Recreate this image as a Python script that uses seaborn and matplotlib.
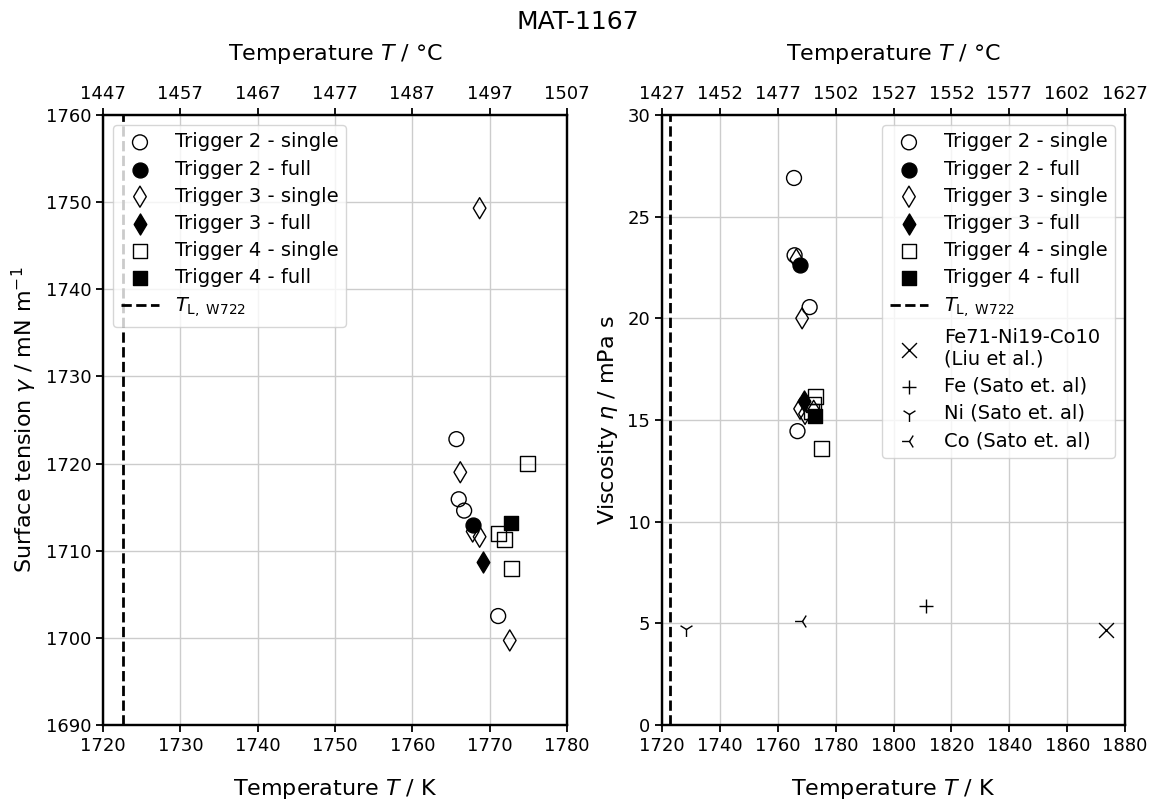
import matplotlib
matplotlib.use("Agg")
import matplotlib.pyplot as plt
import seaborn as sns

# ---- Surface tension (K, mN/m) ----
st_t2_single_T = [1765.7, 1766.0, 1766.7, 1771.1]
st_t2_single_v = [1722.8, 1715.9, 1714.6, 1702.5]
st_t2_full_T = [1767.9]
st_t2_full_v = [1713.0]
st_t3_single_T = [1766.2, 1767.8, 1768.7, 1768.7, 1772.6]
st_t3_single_v = [1719.0, 1712.2, 1711.6, 1749.3, 1699.7]
st_t3_full_T = [1769.2]
st_t3_full_v = [1708.7]
st_t4_single_T = [1774.9, 1771.2, 1771.9, 1772.8]
st_t4_single_v = [1720.0, 1712.0, 1711.3, 1708.0]
st_t4_full_T = [1772.8]
st_t4_full_v = [1713.2]

# ---- Viscosity (K, mPa s) ----
vi_t2_single_T = [1765.6, 1765.8, 1771.0, 1766.8]
vi_t2_single_v = [26.9, 23.1, 20.55, 14.45]
vi_t2_full_T = [1767.8]
vi_t2_full_v = [22.6]
vi_t3_single_T = [1766.4, 1768.4, 1767.7, 1769.4, 1772.4]
vi_t3_single_v = [22.9, 20.0, 15.55, 15.3, 15.45]
vi_t3_full_T = [1768.9]
vi_t3_full_v = [15.95]
vi_t4_single_T = [1772.9, 1772.3, 1771.6, 1775.0]
vi_t4_single_v = [16.15, 15.75, 15.4, 13.6]
vi_t4_full_T = [1772.8]
vi_t4_full_v = [15.2]

# Literature values
liu_T, liu_v = [1873.4], [4.67]
fe_T, fe_v = [1811.1], [5.87]
ni_T, ni_v = [1728.4], [4.72]
co_T, co_v = [1768.3], [5.1]

T_liquidus = 1722.6

st_xticks = [1720, 1730, 1740, 1750, 1760, 1770, 1780]
st_top_labels = ["1447", "1457", "1467", "1477", "1487", "1497", "1507"]
st_yticks = [1690, 1700, 1710, 1720, 1730, 1740, 1750, 1760]
vi_xticks = [1720, 1740, 1760, 1780, 1800, 1820, 1840, 1860, 1880]
vi_top_labels = ["1427", "1452", "1477", "1502", "1527", "1552", "1577", "1602", "1627"]
vi_yticks = [0, 5, 10, 15, 20, 25, 30]

trigger_labels = ["Trigger 2 - single", "Trigger 2 - full",
                  "Trigger 3 - single", "Trigger 3 - full",
                  "Trigger 4 - single", "Trigger 4 - full"]

BLACK = "#000000"

sns.set_theme(style="whitegrid", rc={
    "axes.edgecolor": BLACK,
    "axes.linewidth": 1.6,
    "grid.color": "#cccccc",
    "grid.linewidth": 1.0,
    "xtick.bottom": True,
    "ytick.left": True,
    "xtick.major.size": 5,
    "ytick.major.size": 5,
    "xtick.major.width": 1.3,
    "ytick.major.width": 1.3,
    "xtick.color": BLACK,
    "ytick.color": BLACK,
    "text.color": BLACK,
    "axes.labelcolor": BLACK,
})
plt.rcParams["font.family"] = ["DejaVu Sans"]

TICK_FS = 13
LABEL_FS = 16
LEGEND_FS = 14

fig = plt.figure(figsize=(11.55, 8.05), dpi=100)
ax_st = fig.add_axes([0.0892, 0.0994, 0.4017, 0.7578])
ax_vi = fig.add_axes([0.5732, 0.0994, 0.4009, 0.7578])

MS = 115
styles = [("o", "none"), ("o", BLACK), ("d", "none"), ("d", BLACK), ("s", "none"), ("s", BLACK)]


def draw_triggers(ax, series):
    for (T, v), (mk, fc), lab in zip(series, styles, trigger_labels):
        sns.scatterplot(x=T, y=v, marker=mk, s=MS, color=BLACK, facecolor=fc,
                        edgecolor=BLACK, linewidth=1.0, label=lab, ax=ax, zorder=3)


st_series = [(st_t2_single_T, st_t2_single_v), (st_t2_full_T, st_t2_full_v),
             (st_t3_single_T, st_t3_single_v), (st_t3_full_T, st_t3_full_v),
             (st_t4_single_T, st_t4_single_v), (st_t4_full_T, st_t4_full_v)]
vi_series = [(vi_t2_single_T, vi_t2_single_v), (vi_t2_full_T, vi_t2_full_v),
             (vi_t3_single_T, vi_t3_single_v), (vi_t3_full_T, vi_t3_full_v),
             (vi_t4_single_T, vi_t4_single_v), (vi_t4_full_T, vi_t4_full_v)]

tl_label = r"$T_{\mathrm{L,\ W722}}$"
legend_kw = dict(fontsize=LEGEND_FS, frameon=True, edgecolor="0.8",
                 labelspacing=0.42, borderaxespad=0.5)

# Surface tension panel
draw_triggers(ax_st, st_series)
ax_st.axvline(T_liquidus, color=BLACK, ls="--", lw=2, label=tl_label)
ax_st.set_xlim(1720, 1780)
ax_st.set_ylim(1690, 1760)
ax_st.set_xticks(st_xticks)
ax_st.set_yticks(st_yticks)
ax_st.set_xlabel(r"Temperature $T$ / K", fontsize=LABEL_FS, labelpad=16)
ax_st.set_ylabel(r"Surface tension $\gamma$ / mN m$^{-1}$", fontsize=LABEL_FS, labelpad=5)
ax_st.legend(loc="upper left", **legend_kw)

# Viscosity panel
draw_triggers(ax_vi, vi_series)
ax_vi.axvline(T_liquidus, color=BLACK, ls="--", lw=2, label=tl_label)
sns.scatterplot(x=liu_T, y=liu_v, marker="x", s=MS, color=BLACK, linewidth=1.0,
                label="Fe71-Ni19-Co10\n(Liu et al.)", ax=ax_vi, zorder=3)
sns.scatterplot(x=fe_T, y=fe_v, marker="+", s=MS, color=BLACK, linewidth=1.0,
                label="Fe (Sato et. al)", ax=ax_vi, zorder=3)
sns.scatterplot(x=ni_T, y=ni_v, marker="1", s=MS, color=BLACK, linewidth=1.0,
                label="Ni (Sato et. al)", ax=ax_vi, zorder=3)
sns.scatterplot(x=co_T, y=co_v, marker="3", s=MS, color=BLACK, linewidth=1.0,
                label="Co (Sato et. al)", ax=ax_vi, zorder=3)
ax_vi.set_xlim(1720, 1880)
ax_vi.set_ylim(0, 30)
ax_vi.set_xticks(vi_xticks)
ax_vi.set_yticks(vi_yticks)
ax_vi.set_xlabel(r"Temperature $T$ / K", fontsize=LABEL_FS, labelpad=16)
ax_vi.set_ylabel(r"Viscosity $\eta$ / mPa s", fontsize=LABEL_FS, labelpad=5)
ax_vi.legend(loc="upper right", **legend_kw)

# Celsius scale on top
for ax, ticks, labels in [(ax_st, st_xticks, st_top_labels), (ax_vi, vi_xticks, vi_top_labels)]:
    ax.tick_params(labelsize=TICK_FS)
    top = ax.twiny()
    top.grid(False)
    top.set_xlim(ax.get_xlim())
    top.set_xticks(ticks)
    top.set_xticklabels(labels)
    top.tick_params(labelsize=TICK_FS, top=True, bottom=False, direction="out")
    top.set_xlabel(r"Temperature $T$ / °C", fontsize=LABEL_FS, labelpad=18)

fig.suptitle("MAT-1167", fontsize=18, y=0.988)
fig.savefig("out.png", dpi=100)
